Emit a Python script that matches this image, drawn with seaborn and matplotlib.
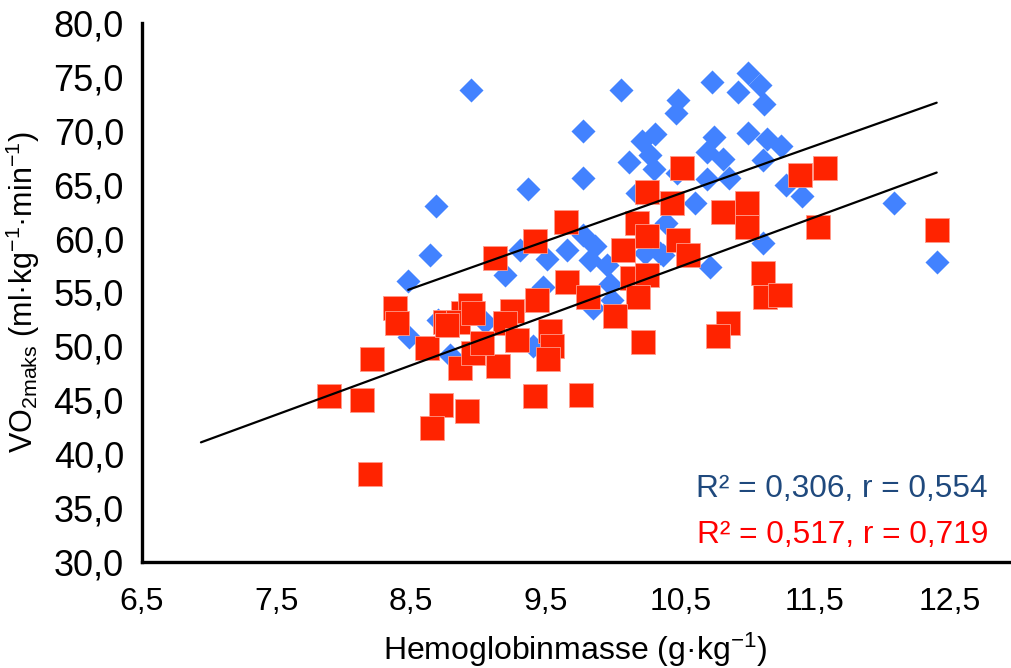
import numpy as np
import pandas as pd
import matplotlib
matplotlib.use("Agg")
import matplotlib.pyplot as plt
import seaborn as sns

# ---- data ----
blue_x = [8.944, 10.056, 9.774, 10.213, 10.311, 10.274, 10.12, 10.304, 10.485, 10.47,
          9.774, 9.366, 8.684, 8.640, 8.478, 10.175, 9.308, 9.511, 9.655, 9.779,
          9.866, 9.829, 9.953, 9.197, 9.98, 9.48, 10.393, 10.35, 9.99, 10.733,
          11.005, 11.092, 10.926, 11.123, 10.752, 11.0, 11.141, 11.245, 10.695, 10.814,
          11.111, 10.472, 10.7, 10.861, 11.282, 11.401, 10.608, 12.09, 11.111, 10.237,
          10.373, 10.72, 12.404, 9.853, 8.701, 8.486, 8.788, 9.048, 9.407]
blue_y = [73.8, 73.8, 70.0, 69.0, 69.7, 67.75, 67.1, 66.4, 72.85, 71.6,
          65.6, 64.6, 63.0, 58.5, 56.1, 64.2, 58.95, 58.1, 58.9, 60.3,
          59.3, 58.0, 57.55, 56.6, 55.8, 55.5, 61.4, 58.65, 54.3, 74.55,
          75.3, 74.2, 73.55, 72.45, 69.4, 69.75, 69.2, 68.6, 68.05, 67.4,
          67.3, 66.05, 65.5, 65.6, 65.0, 63.95, 63.3, 63.3, 59.55, 58.65,
          58.5, 57.35, 57.85, 53.55, 52.45, 50.9, 49.25, 52.3, 50.0]

red_x = [8.38, 8.392, 8.207, 7.889, 8.132, 8.194, 8.615, 8.72, 8.652, 8.862,
         8.917, 8.75, 8.887, 8.937, 8.962, 8.85, 8.962, 9.247, 8.764, 9.197,
         9.531, 9.544, 9.519, 9.147, 9.024, 9.284, 9.42, 9.759, 9.123, 9.42,
         9.65, 10.25, 10.51, 11.389, 11.574, 10.435, 10.819, 10.993, 10.993, 11.525,
         12.404, 10.175, 10.25, 10.076, 10.485, 10.559, 9.655, 9.816, 9.432, 10.138,
         10.25, 10.187, 10.015, 10.224, 11.116, 11.129, 11.24, 10.856, 10.782]
red_y = [53.6, 52.2, 48.8, 45.4, 45.0, 38.2, 49.9, 44.6, 42.45, 48.0,
         44.0, 52.3, 53.1, 53.85, 49.4, 52.3, 53.1, 53.25, 52.0, 52.2,
         51.4, 50.0, 48.8, 48.15, 50.3, 50.6, 45.4, 45.5, 58.2, 59.75,
         61.5, 64.3, 66.5, 65.9, 66.5, 63.3, 62.5, 63.3, 61.1, 61.1,
         60.75, 61.4, 60.2, 58.95, 59.9, 58.5, 56.0, 54.6, 54.3, 56.3,
         56.65, 54.6, 52.8, 50.45, 56.8, 54.6, 54.8, 52.2, 50.95]

# trend lines: slope, intercept, x-range
blue_fit = (4.417, 17.80)
blue_range = [8.478, 12.404]
red_fit = (4.574, 9.38)
red_range = [6.938, 12.404]

x_ticks = [6.5, 7.5, 8.5, 9.5, 10.5, 11.5, 12.5]
x_ticklabels = ["6,5", "7,5", "8,5", "9,5", "10,5", "11,5", "12,5"]
y_ticks = [30, 35, 40, 45, 50, 55, 60, 65, 70, 75, 80]
y_ticklabels = ["30,0", "35,0", "40,0", "45,0", "50,0", "55,0", "60,0",
                "65,0", "70,0", "75,0", "80,0"]

stat_blue = "R² = 0,306, r = 0,554"
stat_red = "R² = 0,517, r = 0,719"

# ---- style ----
sns.set_style("white")
plt.rcParams["font.family"] = ["Liberation Sans", "DejaVu Sans"]
plt.rcParams["mathtext.fontset"] = "custom"
plt.rcParams["mathtext.rm"] = "Liberation Sans"
plt.rcParams["mathtext.it"] = "Liberation Sans"

BLUE = "#4282FF"
RED = "#FF2300"

fig = plt.figure(figsize=(10.11, 6.68), dpi=100)
W, H = 1011, 668
left, right, top, bottom = 142, 1009, 22.7, 562.3
ax = fig.add_axes([left / W, 1 - bottom / H, (right - left) / W, (bottom - top) / H])

blue_df = pd.DataFrame({"x": blue_x, "y": blue_y})
red_df = pd.DataFrame({"x": red_x, "y": red_y})

sns.scatterplot(data=blue_df, x="x", y="y", marker="D", s=150, color=BLUE,
                edgecolor=BLUE, linewidth=0, ax=ax, zorder=2)
sns.scatterplot(data=red_df, x="x", y="y", marker="s", s=320, color=RED,
                edgecolor="#FF9A8A", linewidth=0.6, ax=ax, zorder=3)

bx = np.array(blue_range)
rx = np.array(red_range)
sns.lineplot(x=bx, y=blue_fit[0] * bx + blue_fit[1], color="black", lw=1.6, ax=ax, zorder=4)
sns.lineplot(x=rx, y=red_fit[0] * rx + red_fit[1], color="black", lw=1.6, ax=ax, zorder=4)

ax.set_xlim(6.5, 6.5 + (right - left) / 134.6)
ax.set_ylim(30, 80)
ax.set_xticks(x_ticks)
ax.set_xticklabels(x_ticklabels)
ax.set_yticks(y_ticks)
ax.set_yticklabels(y_ticklabels)

for s in ["top", "right"]:
    ax.spines[s].set_visible(False)
for s in ["left", "bottom"]:
    ax.spines[s].set_linewidth(2.4)
    ax.spines[s].set_color("black")

ax.tick_params(axis="both", which="major", direction="out", length=6, width=2.2,
               color="black", labelcolor="black")
ax.tick_params(axis="x", labelsize=23, pad=12)
ax.tick_params(axis="y", labelsize=26, pad=7)

ax.set_xlabel("Hemoglobinmasse (g·kg$^{\\mathregular{-1}}$)", fontsize=23,
              labelpad=10, color="black")
ax.set_ylabel("VO$_{\\mathregular{2maks}}$ (ml·kg$^{\\mathregular{-1}}$·min$^{\\mathregular{-1}}$)",
              fontsize=22, labelpad=8, color="black")

fig.text(988 / W, 1 - 497 / H, stat_blue, color="#1F497D", fontsize=22.8,
         ha="right", va="baseline")
fig.text(988 / W, 1 - 543 / H, stat_red, color="#FF0000", fontsize=22.8,
         ha="right", va="baseline")

fig.savefig("out.png", dpi=100)
